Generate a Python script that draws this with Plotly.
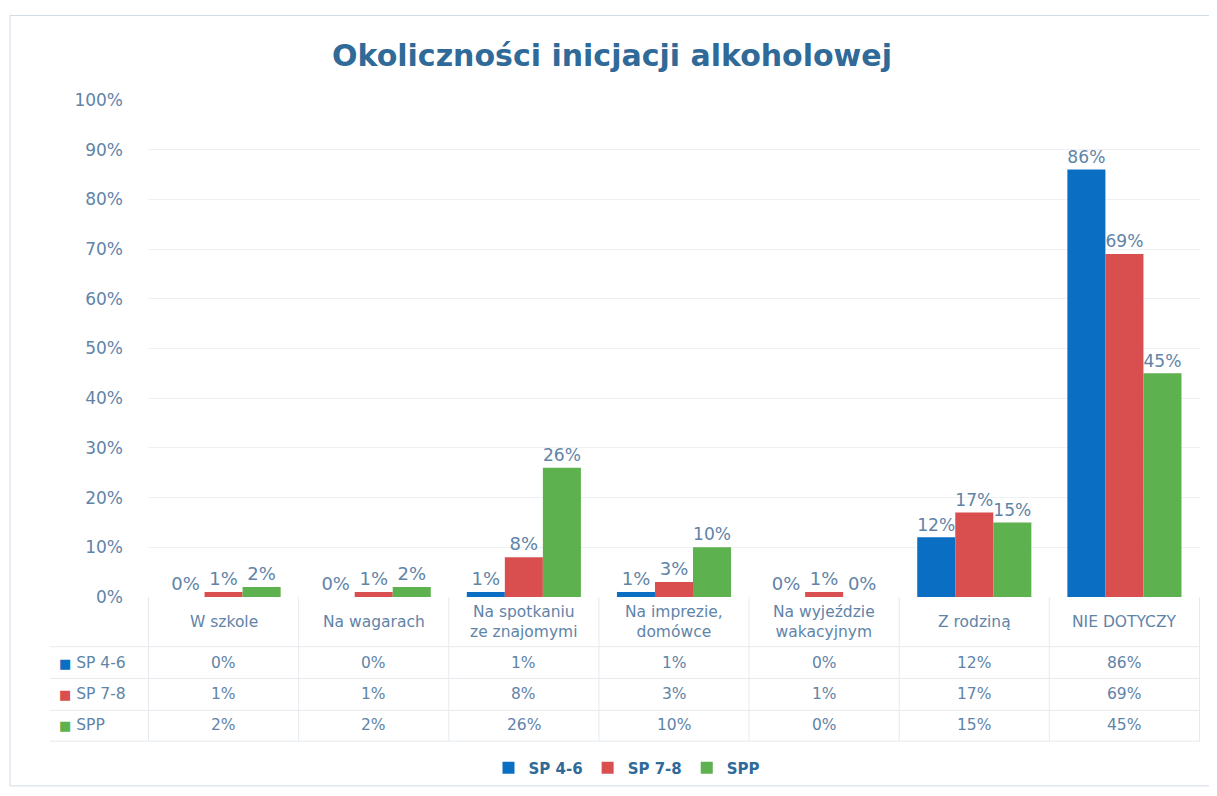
import plotly.graph_objects as go

categories = ["W szkole", "Na wagarach", "Na spotkaniu<br>ze znajomymi", "Na imprezie,<br>domówce",
              "Na wyjeździe<br>wakacyjnym", "Z rodziną", "NIE DOTYCZY"]
series_names = ["SP 4-6", "SP 7-8", "SPP"]
sp46 = [0, 0, 1, 1, 0, 12, 86]
sp78 = [1, 1, 8, 3, 1, 17, 69]
spp = [2, 2, 26, 10, 0, 15, 45]
colors = ["#0A6FC2", "#D94F4F", "#5DB14E"]
y_ticks = [0, 10, 20, 30, 40, 50, 60, 70, 80, 90, 100]

series_values = [sp46, sp78, spp]
label_color = "#5F84A8"
font_family = "DejaVu Sans, Verdana, sans-serif"

fig = go.Figure()
for name, vals, col in zip(series_names, series_values, colors):
    fig.add_trace(go.Bar(
        x=categories, y=vals, name=name, marker=dict(color=col, line=dict(width=0)),
        text=[f"{v}%" for v in vals], textposition="outside",
        textfont=dict(color=label_color, size=18, family=font_family),
        cliponaxis=False,
    ))

# table (positions in paper y relative to plot area; reference pixels)
px_to_py = lambda p: (600 - p) / 500.0
annotations = []
for cat in categories:
    annotations.append(dict(x=cat, xref="x", y=px_to_py(625), yref="paper", text=cat,
                            xanchor="center", yanchor="middle",
                            showarrow=False, font=dict(size=15.5, color=label_color, family=font_family)))
row_y = [666, 698, 729]
for name, vals, col, ry in zip(series_names, series_values, colors, row_y):
    for cat, v in zip(categories, vals):
        annotations.append(dict(x=cat, xref="x", y=px_to_py(ry), yref="paper", text=f"{v}%",
                                xanchor="center", yanchor="middle",
                                showarrow=False, font=dict(size=15.5, color=label_color, family=font_family)))
    annotations.append(dict(x=(57 - 148) / 1052, xref="paper", y=px_to_py(ry), yref="paper",
                            xanchor="left", yanchor="middle",
                            text=f"<span style='color:{col};font-size:13px'>■</span> {name}", showarrow=False,
                            font=dict(size=15.5, color=label_color, family=font_family)))

shapes = []
grid_col = "#E6EAEE"
for i in range(len(categories) + 1):
    xpos = i - 0.5
    shapes.append(dict(type="line", xref="x", yref="paper", x0=xpos, x1=xpos,
                       y0=px_to_py(600), y1=px_to_py(745), line=dict(color=grid_col, width=1)))
for hy in [650, 682, 714, 745]:
    shapes.append(dict(type="line", xref="paper", yref="paper", x0=(50 - 148) / 1052, x1=1,
                       y0=px_to_py(hy), y1=px_to_py(hy), line=dict(color=grid_col, width=1)))
shapes.append(dict(type="rect", xref="paper", yref="paper", x0=(10 - 148) / 1052, x1=(1210 - 148) / 1052,
                   y0=px_to_py(790), y1=px_to_py(15), line=dict(color="#D0DCE6", width=1)))

fig.update_layout(
    width=1209, height=788,
    paper_bgcolor="white", plot_bgcolor="white",
    margin=dict(l=140, r=17, t=92, b=196),
    title=dict(text="<b>Okoliczności inicjacji alkoholowej</b>", x=(612 - 8) / 1209, xanchor="center",
               y=1 - 47 / 788, yanchor="middle",
               font=dict(size=30, color="#2F6A98", family=font_family)),
    barmode="group", bargap=0.24, bargroupgap=0,
    xaxis=dict(showticklabels=False, showgrid=False, zeroline=False, showline=False, ticks=""),
    yaxis=dict(range=[0, 100], tickvals=y_ticks, ticktext=[f"{v}%" for v in y_ticks],
               tickfont=dict(size=17, color=label_color, family=font_family),
               gridcolor="#EEF1F4", zeroline=False, showline=False, ticklabelstandoff=24),
    showlegend=True,
    legend=dict(orientation="h", x=(627 - 148) / 1052, xanchor="center", y=px_to_py(772), yanchor="middle",
                font=dict(size=15, color="#2F6A98", family=font_family, weight="bold"), itemwidth=30,
                traceorder="normal"),
    annotations=annotations, shapes=shapes,
    font=dict(family=font_family),
)
fig.write_html("out.html")
